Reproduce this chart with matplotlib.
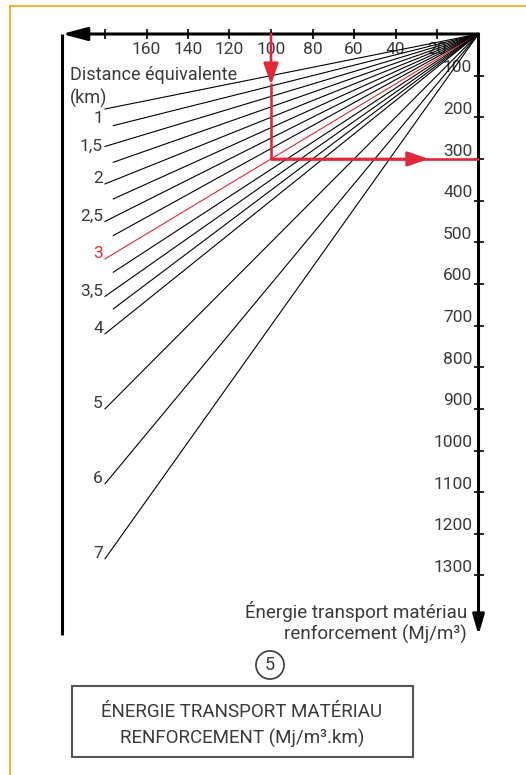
import matplotlib.pyplot as plt
from matplotlib.patches import Rectangle
from matplotlib.lines import Line2D

plt.rcParams['font.family'] = ['Roboto', 'DejaVu Sans']

# data
x_ticks = [20, 40, 60, 80, 100, 120, 140, 160, 180]
x_tick_labels = ['20', '40', '60', '80', '100', '120', '140', '160', '']
y_ticks = [100, 200, 300, 400, 500, 600, 700, 800, 900, 1000, 1100, 1200, 1300]
distances = [1, 1.25, 1.5, 1.75, 2, 2.25, 2.5, 2.75, 3, 3.25, 3.5, 3.75, 4, 5, 6, 7]
labelled = {1: '1', 1.5: '1,5', 2: '2', 2.5: '2,5', 3: '3', 3.5: '3,5',
            4: '4', 5: '5', 6: '6', 7: '7'}
highlight_d = 3
example_x = 100
example_y = highlight_d * example_x

W, H = 526, 775
TXT = '#3a3a3a'
RED = '#e0283a'
FS = 12.5

fig = plt.figure(figsize=(W / 100, H / 100), dpi=100)

def fx(px):
    return px / W

def fy(py):
    return 1 - py / H

# nomogram axes: origin top-right
x0px, y0px, sx, sy = 478.5, 34, 2.075, 0.4165
left_px, bot_px = 62, 635
XL = (x0px - left_px) / sx
YB = (bot_px - y0px) / sy
ax = fig.add_axes([fx(left_px), fy(bot_px), (x0px - left_px) / W, (bot_px - y0px) / H])
ax.set_xlim(XL, 0)
ax.set_ylim(YB, 0)
ax.axis('off')

# axes lines
ax.annotate('', xy=(XL, 0), xytext=(0, 0), annotation_clip=False,
            arrowprops=dict(arrowstyle='-|>,head_length=1.5,head_width=0.4',
                            mutation_scale=10, lw=2.2, color='black',
                            shrinkA=0, shrinkB=0))
ax.annotate('', xy=(0, YB), xytext=(0, 0), annotation_clip=False,
            arrowprops=dict(arrowstyle='-|>,head_length=1.2,head_width=0.35',
                            mutation_scale=10, lw=2.2, color='black',
                            shrinkA=0, shrinkB=0))
ax.plot([XL, XL], [0, YB], color='black', lw=2.2, clip_on=False,
        solid_capstyle='butt')

ax.plot(x_ticks, [0] * len(x_ticks), ls='none', marker='|', ms=7, mew=1.2,
        color='black', clip_on=False)
ax.plot([0] * len(y_ticks), y_ticks, ls='none', marker='_', ms=7, mew=1.2,
        color='black', clip_on=False)

for xt, lab in zip(x_ticks, x_tick_labels):
    ax.text(xt, 37, lab, ha='center', va='center', fontsize=FS, color=TXT, zorder=1)
for yt in y_ticks:
    ax.text(3.0, yt - 1, str(yt), ha='right', va='bottom', fontsize=FS, color=TXT, zorder=1)

# fan of distance lines
for d in distances:
    xe = 180 if d in labelled else 176
    col = RED if d == highlight_d else 'black'
    ax.plot([0, xe], [0, d * xe], color=col, lw=0.8, zorder=2)
    if d in labelled:
        off = {1: 22, 1.5: 0}.get(d, -12)
        ax.text(181, d * 180 + off, labelled[d], ha='right', va='center',
                fontsize=FS, color=col if d == highlight_d else TXT)

ax.text(197, 127, 'Distance équivalente\n(km)', ha='left', va='center',
        fontsize=13, color=TXT, linespacing=1.3)

# example reading
arrow_kw = dict(arrowstyle='-|>,head_length=1.3,head_width=0.45',
                mutation_scale=10, lw=1.9, color=RED, shrinkA=0, shrinkB=0)
ax.annotate('', xy=(example_x, 122), xytext=(example_x, 0), arrowprops=arrow_kw, zorder=4)
ax.plot([example_x, example_x, 0], [118, example_y, example_y], color=RED, lw=1.9,
        zorder=4, solid_capstyle='butt')
ax.annotate('', xy=(24, example_y), xytext=(example_x, example_y), arrowprops=arrow_kw, zorder=4)

ax.text(5.5, 1413, 'Énergie transport matériau\nrenforcement (Mj/m³)', ha='right',
        va='center', fontsize=13.5, color=TXT, linespacing=1.25, multialignment='right')

# bottom caption
fig.text(fx(270), fy(665), '5', ha='center', va='center', fontsize=13, color=TXT,
         bbox=dict(boxstyle='circle,pad=0.28', fc='white', ec=TXT, lw=1.2))
fig.patches.append(Rectangle((fx(72), fy(757)), fx(413) - fx(72), fy(686) - fy(757),
                             transform=fig.transFigure, fill=False, ec='#555555', lw=1.5))
fig.text(fx(242), fy(725.5), 'ÉNERGIE TRANSPORT MATÉRIAU\nRENFORCEMENT (Mj/m³.km)',
         ha='center', va='center', fontsize=13.5, color=TXT, linespacing=1.5)

# orange frame
fig.lines.append(Line2D([fx(10), 1], [fy(6), fy(6)], transform=fig.transFigure,
                        color='#f2a31b', lw=1.2))
fig.lines.append(Line2D([fx(10), fx(10)], [fy(6), 0], transform=fig.transFigure,
                        color='#f2a31b', lw=1.2))

fig.savefig('out.png', dpi=100)
